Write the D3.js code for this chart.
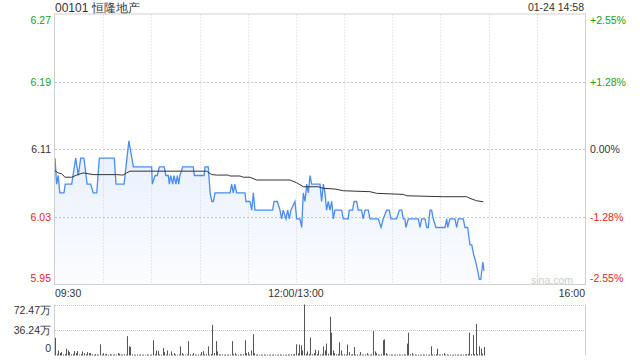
<!DOCTYPE html>
<html><head><meta charset="utf-8">
<script src="https://cdn.jsdelivr.net/npm/d3@7"></script>
<style>body{margin:0;background:#fff;} svg{display:block;font-family:"Liberation Sans",Arial,sans-serif;}</style>
</head><body><svg id="c" width="640" height="360"></svg>
<script>
const title = "00101 恒隆地产";
const stamp = "01-24 14:58";
const prevClose = 6.11;
const axisPct = 0.0255;
const priceTickLabels = ["5.95","6.03","6.11","6.19","6.27"];
const pctTickLabels = ["-2.55%","-1.28%","0.00%","+1.28%","+2.55%"];
const timeLabels = ["09:30","12:00/13:00","16:00"];
const timeLabelMinutes = [0,150,330];
const volTickLabels = ["0","36.24万","72.47万"];
const volMax = 72.47;

const priceMinutes = [0,1,2,3,5.6,6.4,10.4,12.9,14.5,16,18,20,22.2,23.8,26,27.6,36.9,38,43,46,48.8,60.2,60.6,62.3,63.7,65,68,69,70.5,71.2,72,73.3,74.1,75.3,76.2,77,77.8,79.5,86.1,86.8,92.8,93.4,95.4,96.6,97.7,98.6,99.6,109,110,111,112,113.1,118.3,118.9,121.4,122.5,123.5,124.5,135.5,136.4,138.4,140.1,141.1,142.1,143.8,144.9,145.9,146.9,149.4,150.5,152.5,153.6,154.6,155.7,156.7,157.7,158.8,159.8,165,166,167.1,168.1,169.1,170.2,171.2,172.3,173.3,174.3,178.5,179.5,182.6,183.2,185.3,186.2,187.8,188.8,190.9,191.9,193,195.1,196.1,201.3,203,204.4,206.5,208.1,209.2,212.7,214.4,215.9,216.9,217.9,218.5,220,226.2,227.3,228.3,230.4,231.5,232.4,233.5,234.5,235.5,237.2,242.8,243.9,244.5,245.9,249,250.1,251.1,254.2,255.3,256.9,258.4,259.5,260.5,262,263.2,264.2,265.1,266.4,267.1];
const prices = [6.10,6.07,6.08,6.06,6.06,6.07,6.07,6.10,6.08,6.10,6.10,6.07,6.07,6.06,6.06,6.10,6.10,6.07,6.07,6.12,6.09,6.09,6.07,6.08,6.08,6.09,6.09,6.08,6.08,6.07,6.08,6.07,6.08,6.07,6.08,6.07,6.08,6.09,6.09,6.08,6.08,6.09,6.09,6.06,6.05,6.05,6.06,6.06,6.07,6.06,6.07,6.06,6.06,6.05,6.05,6.04,6.06,6.04,6.04,6.05,6.05,6.04,6.03,6.04,6.03,6.04,6.03,6.04,6.05,6.03,6.03,6.02,6.06,6.05,6.07,6.06,6.08,6.07,6.07,6.05,6.07,6.06,6.04,6.05,6.04,6.05,6.03,6.04,6.04,6.03,6.03,6.04,6.04,6.05,6.05,6.04,6.04,6.03,6.04,6.04,6.03,6.03,6.02,6.03,6.04,6.04,6.03,6.03,6.04,6.04,6.03,6.03,6.02,6.03,6.03,6.02,6.03,6.03,6.02,6.02,6.04,6.04,6.03,6.02,6.02,6.03,6.02,6.03,6.03,6.02,6.03,6.03,6.02,6.02,6.00,6.00,5.99,5.98,5.97,5.96,5.96,5.98,5.97];

const avgMinutes = [0,2,4.2,6.2,10.4,13.5,17.6,23.8,38.4,42.5,44.6,46.7,94.4,97.6,100.7,107.9,109,115.2,117.2,121.4,124.5,125.6,146.3,150.5,154.6,163.9,167,174.3,179.5,196.1,200.3,216.9,219,241.8,256.3,258.4,262.6,266.7];
const avgPrices = [6.0855,6.083,6.082,6.078,6.078,6.0805,6.083,6.081,6.081,6.0805,6.083,6.085,6.085,6.081,6.0805,6.0805,6.0794,6.0794,6.078,6.078,6.0755,6.0748,6.0748,6.0716,6.067,6.067,6.0652,6.0644,6.0624,6.0613,6.0594,6.0582,6.0566,6.0555,6.0555,6.0536,6.0508,6.0497];

const spikeMinutes = [0,2,3,4,7,8,9,12,13,14,17,18,20,21,22,28,30,32,39,40,45,46,47,61,63,64,67,68,70,72,74,78,79,83,86,91,92,95,98,99,100,101,110,112,118,119,120,122,123,124,150,152,153,154,155,157,159,161,162,164,167,168,169,171,172,173,174,177,178,182,183,186,190,194,198,199,200,204,205,206,219,220,222,234,238,242,258,260,262,264,265,267];
const spikeVolumes = [25.1,7.2,3.4,4.8,9.7,7.2,4.8,6.3,3.4,6.3,5.8,3.4,4.8,3.4,3.4,15.9,3.4,2.4,3.4,2.4,27.5,13.0,12.1,21.7,7.2,6.3,10.6,4.8,7.2,5.8,3.4,13.0,3.4,20.3,3.4,4.8,6.3,13.0,43.5,3.4,20.3,5.8,20.3,3.4,21.7,3.4,4.8,7.2,30.4,3.4,15.9,15.5,14.5,7.2,72.47,5.8,25.6,3.4,8.2,7.2,13.0,7.2,16.9,55.1,32.4,7.2,3.4,18.8,7.2,15.5,4.8,12.1,4.8,3.4,34.8,5.8,3.4,21.7,22.7,3.4,16.9,32.4,3.4,13.0,9.7,3.4,32.4,29.0,44.9,13.0,9.7,12.1];
const quietMinutes = [1,5,6,10,11,15,16,19,23,24,25,26,27,29,31,33,34,35,36,37,38,41,42,43,44,48,49,50,51,52,53,54,55,56,57,58,59,60,62,65,66,69,71,73,75,76,77,80,81,82,84,85,87,88,89,90,93,94,96,97,102,103,104,105,106,107,108,109,111,113,114,115,116,117,121,125,126,127,128,129,130,131,132,133,134,135,136,137,138,139,140,141,142,143,144,145,146,147,148,149,151,156,158,160,163,165,166,170,175,176,179,180,181,184,185,187,188,189,191,192,193,195,196,197,201,202,203,207,208,209,210,211,212,213,214,215,216,217,218,221,223,224,225,226,227,228,229,230,231,232,233,235,236,237,239,240,241,243,244,245,246,247,248,249,250,251,252,253,254,255,256,257,259,261,263,266];
const quietVolumes = [1.9,1.5,2.1,1.7,2.2,1.4,2.0,1.6,1.8,1.2,2.0,1.5,1.1,1.4,1.7,1.2,1.9,1.4,1.0,1.6,1.3,1.5,1.1,1.8,1.3,1.6,1.2,1.0,1.4,1.1,1.5,0.9,1.3,1.0,1.6,1.2,1.0,1.4,1.8,1.5,1.2,1.4,1.7,1.3,1.5,1.0,1.4,1.6,1.1,1.5,1.8,1.2,1.4,1.0,1.6,1.3,1.5,1.9,1.2,2.2,1.6,1.3,1.7,1.1,1.4,1.0,1.5,1.2,1.8,1.4,1.1,1.6,1.3,1.9,1.5,1.2,1.6,1.0,1.4,1.1,1.5,1.2,1.3,1.0,1.4,1.1,1.5,1.2,1.0,1.3,1.6,1.1,1.4,1.0,1.3,1.5,1.2,1.8,1.4,2.0,3.0,2.5,2.2,1.8,2.0,1.5,1.8,2.4,1.6,2.0,1.4,1.7,1.2,1.5,1.9,1.3,1.6,1.1,1.4,1.2,1.6,1.3,1.1,1.7,1.5,1.2,1.8,1.4,1.1,1.6,1.3,1.0,1.4,1.2,1.5,1.1,1.3,1.6,1.4,1.8,1.2,1.5,1.1,1.4,1.0,1.3,1.6,1.2,1.4,1.0,1.5,1.7,1.3,1.9,1.4,1.2,1.6,1.3,1.5,1.1,1.4,1.0,1.3,1.5,1.2,1.4,1.1,1.6,1.3,1.5,1.8,2.4,2.0,2.2,1.8,2.6];

const svg = d3.select("#c");
const L = 55, R = 585, T = 14.5, B = 284.5;
const VT = 304.5, VB = 355.5;
const green = "#1a9e1a", red = "#e8231f", dark = "#333";

const x = d3.scaleLinear().domain([0,330]).range([L,R]);
const y = d3.scaleLinear().domain([prevClose*(1-axisPct), prevClose*(1+axisPct)]).range([B,T]);
const yv = d3.scaleLinear().domain([0, volMax]).range([VB, VT]);
const [d0,d1] = y.domain();
const gridVals = d3.range(5).map(i => d0 + i*(d1-d0)/4);

// gradient
const defs = svg.append("defs");
const grad = defs.append("linearGradient").attr("id","g").attr("gradientUnits","userSpaceOnUse")
  .attr("x1",0).attr("x2",0).attr("y1",T).attr("y2",B);
grad.append("stop").attr("offset","0").attr("stop-color","#d6e5fb");
grad.append("stop").attr("offset","1").attr("stop-color","#fbfcff");

// area + lines
const pts = priceMinutes.map((m,i)=>[m,prices[i]]);
svg.append("path").datum(pts).attr("fill","url(#g)")
  .attr("d", d3.area().x(d=>x(d[0])).y0(B).y1(d=>y(d[1])));

// grid
const gx = [30,60,90,120,150,180,210,240,270,300];
svg.append("g").selectAll("line").data(gx).join("line")
  .attr("x1",d=>Math.round(x(d))+0.5).attr("x2",d=>Math.round(x(d))+0.5).attr("y1",T).attr("y2",B)
  .attr("stroke","#d4d4d4").attr("stroke-dasharray","1,2");
svg.append("g").selectAll("line").data(gridVals.slice(1,4)).join("line")
  .attr("x1",L).attr("x2",R).attr("y1",d=>Math.round(y(d))+0.5).attr("y2",d=>Math.round(y(d))+0.5)
  .attr("stroke","#c8c8c8").attr("stroke-dasharray","2,2");

svg.append("path").datum(pts).attr("fill","none").attr("stroke","#4a8cf0").attr("stroke-width",1.3)
  .attr("d", d3.line().x(d=>x(d[0])).y(d=>y(d[1])));
const apts = avgMinutes.map((m,i)=>[m,avgPrices[i]]);
svg.append("path").datum(apts).attr("fill","none").attr("stroke","#333").attr("stroke-width",1)
  .attr("d", d3.line().x(d=>x(d[0])).y(d=>y(d[1])));

// frame
svg.append("rect").attr("x",L-0.5).attr("y",T-0.5).attr("width",R-L+1).attr("height",B-T+0.5)
  .attr("fill","none").attr("stroke","#cfcfcf");

// watermark
svg.append("text").attr("x",573).attr("y",284).attr("text-anchor","end").attr("font-size",10.5)
  .attr("fill","#cdcdcd").text("sina.com");

// y axes
const colorFor = i => i>2 ? green : (i<2 ? red : dark);
const lab = (d,i) => i===4 ? 6 : (i===0 ? -6 : 0);
const ly = svg.append("g").attr("transform",`translate(${L-4},0)`)
  .call(d3.axisLeft(y).tickValues(gridVals).tickSize(0).tickFormat((d,i)=>priceTickLabels[i]));
ly.select(".domain").remove();
ly.selectAll("text").attr("font-size",10.5).attr("font-family","Liberation Sans, Arial, sans-serif")
  .attr("fill",(d,i)=>colorFor(i)).attr("dy",(d,i)=>(0.32*10.5+lab(d,i))+"px").attr("x",0);
const ry = svg.append("g").attr("transform",`translate(${R+5},0)`)
  .call(d3.axisRight(y).tickValues(gridVals).tickSize(0).tickFormat((d,i)=>pctTickLabels[i]));
ry.select(".domain").remove();
ry.selectAll("text").attr("font-size",10.5).attr("font-family","Liberation Sans, Arial, sans-serif")
  .attr("fill",(d,i)=>colorFor(i)).attr("dy",(d,i)=>(0.32*10.5+lab(d,i))+"px").attr("x",0);

// x labels
svg.append("g").selectAll("text").data(timeLabels).join("text")
  .attr("x",(d,i)=>x(timeLabelMinutes[i]))
  .attr("y",297).attr("font-size",10.5).attr("fill",dark)
  .attr("text-anchor",(d,i)=>i===0?"start":(i===1?"middle":"end")).text(d=>d);

// title
svg.append("text").attr("x",55).attr("y",11.5).attr("font-size",12).attr("fill",dark).text(title);
svg.append("text").attr("x",584).attr("y",11).attr("font-size",10.5).attr("fill",dark).attr("text-anchor","end").text(stamp);

// volume grid
svg.append("g").selectAll("line").data([volMax, volMax/2]).join("line")
  .attr("x1",L).attr("x2",R).attr("y1",d=>Math.round(yv(d))+0.5).attr("y2",d=>Math.round(yv(d))+0.5)
  .attr("stroke","#c8c8c8").attr("stroke-dasharray","1,1");
svg.append("line").attr("x1",L-0.5).attr("x2",L-0.5).attr("y1",VT).attr("y2",VB).attr("stroke","#cfcfcf");
svg.append("line").attr("x1",R+0.5).attr("x2",R+0.5).attr("y1",VT).attr("y2",VB).attr("stroke","#cfcfcf");

// volume bars
const drawBars = (ms, vs) => svg.append("g").selectAll("line").data(ms).join("line")
  .attr("x1",d=>Math.round(x(d))+0.5).attr("x2",d=>Math.round(x(d))+0.5)
  .attr("y1",VB).attr("y2",(d,i)=>yv(vs[i])).attr("stroke","#555").attr("stroke-width",1);
drawBars(quietMinutes, quietVolumes);
drawBars(spikeMinutes, spikeVolumes);

// volume labels
const vl = svg.append("g").attr("transform",`translate(${L-4},0)`)
  .call(d3.axisLeft(yv).tickValues([0, volMax/2, volMax]).tickSize(0).tickFormat((d,i)=>volTickLabels[i]));
vl.select(".domain").remove();
vl.selectAll("text").attr("font-size",10.5).attr("font-family","Liberation Sans, Arial, sans-serif")
  .attr("fill",dark).attr("x",0).attr("dy",(d,i)=>(0.32*10.5+(i===2?6:(i===0?-7:0)))+"px");
</script></body></html>
